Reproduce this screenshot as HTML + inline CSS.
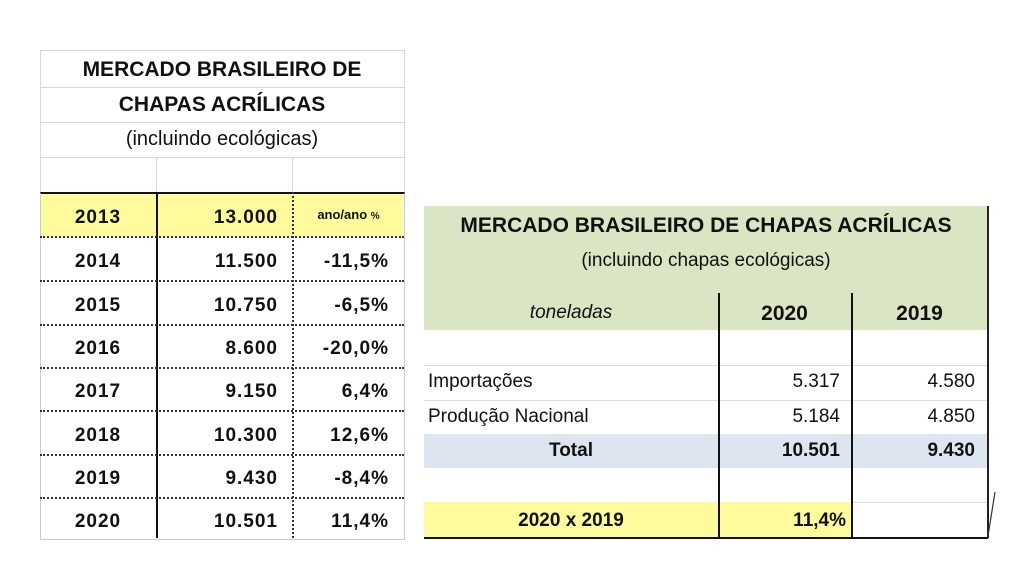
<!DOCTYPE html>
<html><head><meta charset="utf-8"><style>
body{margin:0;width:1026px;height:570px;background:#fff;position:relative;overflow:hidden;font-family:"Liberation Sans",sans-serif;color:#111}
.a{position:absolute}
.c{position:absolute;text-align:center}
.r{position:absolute;text-align:right}
.b{font-weight:bold}
</style></head><body>
<div class="a" style="left:40px;top:50px;width:363px;height:142px;border:1px solid #d8d8d8;border-bottom:none"></div>
<div class="a" style="left:40px;top:87px;width:364px;border-top:1px solid #d8d8d8"></div>
<div class="a" style="left:40px;top:122px;width:364px;border-top:1px solid #d8d8d8"></div>
<div class="a" style="left:40px;top:157px;width:364px;border-top:1px solid #d8d8d8"></div>
<div class="a" style="left:156px;top:157px;height:35px;border-left:1px solid #d8d8d8"></div>
<div class="a" style="left:292px;top:157px;height:35px;border-left:1px solid #d8d8d8"></div>
<div class="c b" style="left:40px;top:58px;width:364px;font-size:21px">MERCADO BRASILEIRO DE</div>
<div class="c b" style="left:40px;top:93px;width:364px;font-size:21px">CHAPAS ACRÍLICAS</div>
<div class="c" style="left:40px;top:128px;width:364px;font-size:20px">(incluindo ecológicas)</div>
<div class="a" style="left:40px;top:192px;width:363px;height:44px;background:#fdfb9c"></div>
<div class="a" style="left:40px;top:192px;width:363px;height:345px;border-top:2px solid #111;border-right:1px solid #ccc;border-left:1px solid #ccc;border-bottom:1px solid #ccc"></div>
<div class="a" style="left:156px;top:192px;height:346px;border-left:2px solid #111"></div>
<div class="a" style="left:292px;top:192px;height:346px;border-left:2px dotted #333"></div>
<div class="a" style="left:40px;top:236px;width:364px;border-top:2px dotted #333"></div>
<div class="a" style="left:40px;top:280px;width:364px;border-top:2px dotted #333"></div>
<div class="a" style="left:40px;top:324px;width:364px;border-top:2px dotted #333"></div>
<div class="a" style="left:40px;top:367px;width:364px;border-top:2px dotted #333"></div>
<div class="a" style="left:40px;top:410px;width:364px;border-top:2px dotted #333"></div>
<div class="a" style="left:40px;top:454px;width:364px;border-top:2px dotted #333"></div>
<div class="a" style="left:40px;top:497px;width:364px;border-top:2px dotted #333"></div>
<div style="font-size:19px;letter-spacing:1px" class="b">
<div class="c" style="left:40px;top:207px;width:116px">2013</div><div class="r" style="left:156px;top:207px;width:122px">13.000</div><div class="c" style="left:294px;top:207px;width:109px;font-size:13px;letter-spacing:0">ano/ano <span style="font-size:10px">%</span></div>
<div class="c" style="left:40px;top:251px;width:116px">2014</div><div class="r" style="left:156px;top:251px;width:122px">11.500</div><div class="r" style="left:294px;top:251px;width:95px">-11,5%</div>
<div class="c" style="left:40px;top:295px;width:116px">2015</div><div class="r" style="left:156px;top:295px;width:122px">10.750</div><div class="r" style="left:294px;top:295px;width:95px">-6,5%</div>
<div class="c" style="left:40px;top:338px;width:116px">2016</div><div class="r" style="left:156px;top:338px;width:122px">8.600</div><div class="r" style="left:294px;top:338px;width:95px">-20,0%</div>
<div class="c" style="left:40px;top:381px;width:116px">2017</div><div class="r" style="left:156px;top:381px;width:122px">9.150</div><div class="r" style="left:294px;top:381px;width:95px">6,4%</div>
<div class="c" style="left:40px;top:425px;width:116px">2018</div><div class="r" style="left:156px;top:425px;width:122px">10.300</div><div class="r" style="left:294px;top:425px;width:95px">12,6%</div>
<div class="c" style="left:40px;top:468px;width:116px">2019</div><div class="r" style="left:156px;top:468px;width:122px">9.430</div><div class="r" style="left:294px;top:468px;width:95px">-8,4%</div>
<div class="c" style="left:40px;top:511px;width:116px">2020</div><div class="r" style="left:156px;top:511px;width:122px">10.501</div><div class="r" style="left:294px;top:511px;width:95px">11,4%</div>
</div>
<div class="a" style="left:424px;top:206px;width:564px;height:124px;background:#d9e5c3"></div>
<div class="a" style="left:424px;top:434px;width:564px;height:34px;background:#dde6f0"></div>
<div class="a" style="left:424px;top:502px;width:294px;height:35px;background:#fdfb9c"></div>
<div class="a" style="left:718px;top:502px;width:133px;height:35px;background:#fdfb9c"></div>
<div class="a" style="left:424px;top:365px;width:564px;border-top:1px solid #ddd"></div>
<div class="a" style="left:424px;top:400px;width:564px;border-top:1px solid #ddd"></div>
<div class="a" style="left:851px;top:502px;width:137px;border-top:1px solid #ddd"></div>
<div class="a" style="left:424px;top:537px;width:564px;border-top:2px solid #111"></div>
<div class="a" style="left:987px;top:206px;height:332px;border-left:2px solid #222"></div>
<div class="a" style="left:718px;top:293px;height:245px;border-left:2px solid #111"></div>
<div class="a" style="left:851px;top:293px;height:245px;border-left:2px solid #111"></div>
<div class="c b" style="left:424px;top:214px;width:564px;font-size:21px">MERCADO BRASILEIRO DE CHAPAS ACRÍLICAS</div>
<div class="c" style="left:424px;top:250px;width:564px;font-size:19px">(incluindo chapas ecológicas)</div>
<div class="c" style="left:424px;top:302px;width:294px;font-size:19px;font-style:italic">toneladas</div>
<div class="c b" style="left:718px;top:302px;width:133px;font-size:21px">2020</div>
<div class="c b" style="left:851px;top:302px;width:137px;font-size:21px">2019</div>
<div style="font-size:19px">
<div class="a" style="left:428px;top:371px">Importações</div><div class="r" style="left:718px;top:371px;width:122px">5.317</div><div class="r" style="left:851px;top:371px;width:124px">4.580</div>
<div class="a" style="left:428px;top:406px">Produção Nacional</div><div class="r" style="left:718px;top:406px;width:122px">5.184</div><div class="r" style="left:851px;top:406px;width:124px">4.850</div>
<div class="c b" style="left:424px;top:440px;width:294px">Total</div><div class="r b" style="left:718px;top:440px;width:122px">10.501</div><div class="r b" style="left:851px;top:440px;width:124px">9.430</div>
<div class="c b" style="left:424px;top:510px;width:294px">2020 x 2019</div><div class="r b" style="left:718px;top:510px;width:128px">11,4%</div>
</div>
<svg class="a" style="left:985px;top:490px" width="12" height="50"><line x1="10" y1="2" x2="3" y2="46" stroke="#333" stroke-width="1.2"/></svg>
</body></html>
